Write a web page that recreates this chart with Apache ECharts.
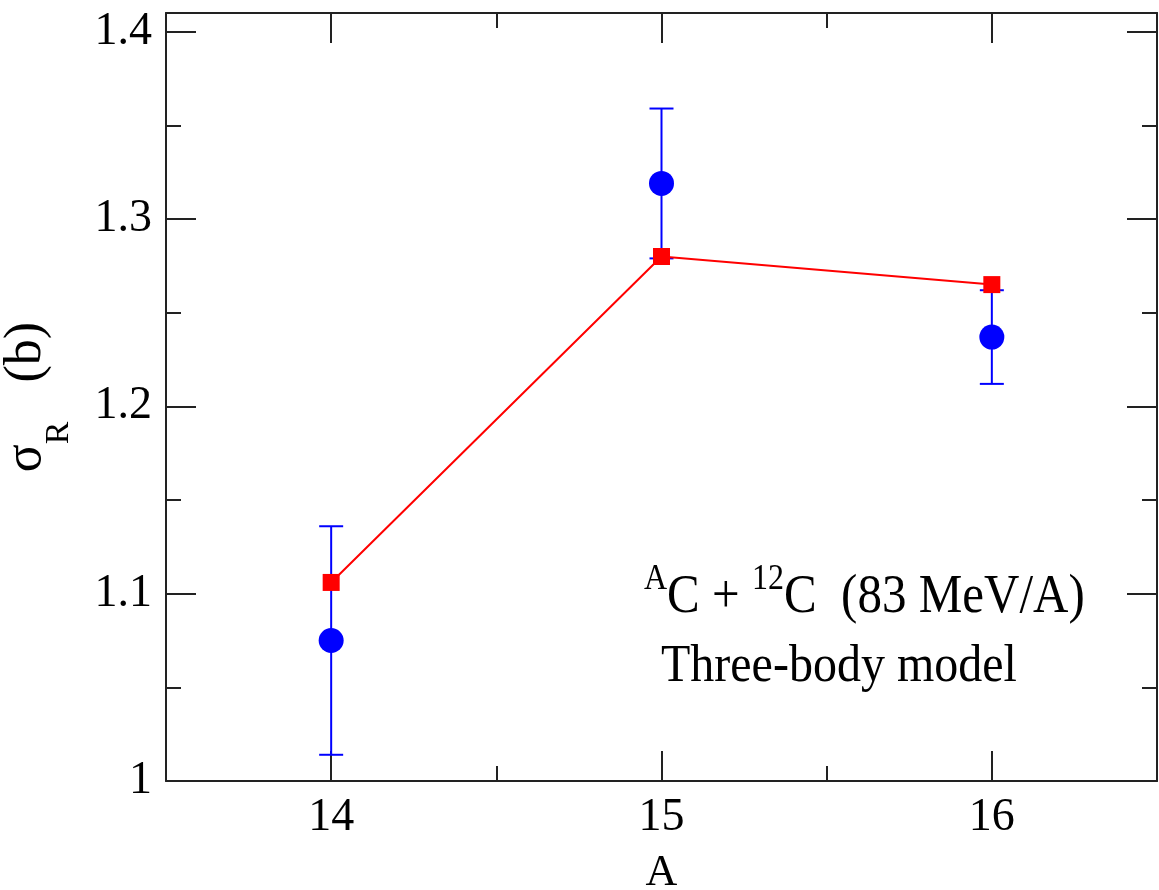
<!DOCTYPE html>
<html>
<head>
<meta charset="utf-8">
<title>Reaction cross section</title>
<script src="https://cdn.jsdelivr.net/npm/echarts@6/dist/echarts.min.js"></script>
<style>
  html, body { margin: 0; padding: 0; background: #fff; }
  #chart { width: 1159px; height: 890px; }
</style>
</head>
<body>
<div id="chart"></div>
<script>
// mass number A of the carbon isotope
const massNumbers = [14, 15, 16];
// measured sigma_R (b) with error bar ends
const sigmaExp = [1.075, 1.319, 1.237];
const errLow = [1.014, 1.279, 1.212];
const errHigh = [1.136, 1.359, 1.262];
// three-body model
const sigmaModel = [1.106, 1.280, 1.265];

// tick positions on the A axis
const xMajorTicks = [14, 15, 16];
const xMinorTicks = [14.5, 15.5];

const serif = "'Liberation Serif', 'DejaVu Serif', serif";
const axisColor = '#222';
const tickStyle = { color: axisColor, width: 2 };

const chart = echarts.init(document.getElementById('chart'));

function xAx(pos, ticks, len, labels, line) {
  return {
    type: 'value',
    position: pos,
    min: 13.5,
    max: 16.5,
    interval: 0.5,
    axisLine: { show: line, lineStyle: tickStyle },
    axisTick: { show: true, inside: true, length: len, lineStyle: tickStyle, customValues: ticks },
    minorTick: { show: false },
    splitLine: { show: false },
    axisLabel: {
      show: labels,
      customValues: ticks,
      margin: 14,
      fontFamily: serif,
      fontSize: 46,
      color: '#000'
    }
  };
}
function yAx(pos, labels) {
  return {
    type: 'value',
    position: pos,
    min: 1.0,
    max: 1.41,
    interval: 0.1,
    axisLine: { show: true, lineStyle: tickStyle },
    axisTick: { show: true, inside: true, length: 30, lineStyle: tickStyle },
    minorTick: { show: true, splitNumber: 2, length: 15, lineStyle: tickStyle },
    splitLine: { show: false },
    axisLabel: {
      show: labels,
      margin: 14,
      fontFamily: serif,
      fontSize: 46,
      color: '#000',
      showMaxLabel: false,
      formatter: function (v) { return v > 1.405 ? '' : String(+v.toFixed(2)); }
    }
  };
}

const xBottom = xAx('bottom', xMajorTicks, 30, true, true);
xBottom.name = 'A';
xBottom.nameLocation = 'middle';
xBottom.nameGap = 70;
xBottom.nameTextStyle = { fontFamily: serif, fontSize: 44, color: '#000' };

const yLeft = yAx('left', true);
yLeft.name = '{s|σ}{r|R}{s|   (b)}';
yLeft.nameLocation = 'middle';
yLeft.nameRotate = 90;
yLeft.nameGap = 90;
yLeft.nameTextStyle = {
  fontFamily: serif,
  color: '#000',
  rich: {
    s: { fontFamily: serif, fontSize: 52, lineHeight: 76, verticalAlign: 'top', color: '#000' },
    r: { fontFamily: serif, fontSize: 34, lineHeight: 76, verticalAlign: 'bottom', color: '#000' }
  }
};

const errData = massNumbers.map((a, i) => [a, errLow[i], errHigh[i]]);

chart.setOption({
  animation: false,
  backgroundColor: '#fff',
  grid: { left: 166, right: 2, top: 13, bottom: 109, containLabel: false, outerBoundsMode: 'none' },
  xAxis: [
    xBottom,
    xAx('bottom', xMinorTicks, 15, false, false),
    xAx('top', xMajorTicks, 30, false, true),
    xAx('top', xMinorTicks, 15, false, false)
  ],
  yAxis: [yLeft, yAx('right', false)],
  series: [
    {
      type: 'custom',
      name: 'error',
      data: errData,
      renderItem: function (params, api) {
        const lo = api.coord([api.value(0), api.value(1)]);
        const hi = api.coord([api.value(0), api.value(2)]);
        const w = 12;
        const st = { stroke: '#0000ff', lineWidth: 2 };
        return {
          type: 'group',
          children: [
            { type: 'line', shape: { x1: lo[0], y1: lo[1], x2: hi[0], y2: hi[1] }, style: st },
            { type: 'line', shape: { x1: lo[0] - w, y1: lo[1], x2: lo[0] + w, y2: lo[1] }, style: st },
            { type: 'line', shape: { x1: hi[0] - w, y1: hi[1], x2: hi[0] + w, y2: hi[1] }, style: st }
          ]
        };
      },
      z: 2
    },
    {
      type: 'scatter',
      name: 'exp',
      data: massNumbers.map((a, i) => [a, sigmaExp[i]]),
      symbol: 'circle',
      symbolSize: 25,
      itemStyle: { color: '#0000ff', opacity: 1 },
      z: 3
    },
    {
      type: 'line',
      name: 'Three-body model',
      data: massNumbers.map((a, i) => [a, sigmaModel[i]]),
      symbol: 'rect',
      symbolSize: 17,
      showAllSymbol: true,
      lineStyle: { color: '#ff0000', width: 2 },
      itemStyle: { color: '#ff0000', opacity: 1 },
      z: 4
    }
  ],
  graphic: [
    {
      type: 'text',
      left: 644,
      top: 562,
      scaleY: 1.12,
      style: {
        text: '{p|A}{b|C + }{p|12}{b|C  (83 MeV/A)}',
        fill: '#000',
        rich: {
          b: { fontFamily: serif, fontSize: 49, lineHeight: 56, verticalAlign: 'bottom', fill: '#000' },
          p: { fontFamily: serif, fontSize: 32, lineHeight: 56, verticalAlign: 'top', fill: '#000' }
        }
      }
    },
    {
      type: 'text',
      left: 661,
      top: 640,
      scaleY: 1.12,
      style: {
        text: 'Three-body model',
        fill: '#000',
        fontFamily: serif,
        fontSize: 48
      }
    }
  ]
});
</script>
</body>
</html>
